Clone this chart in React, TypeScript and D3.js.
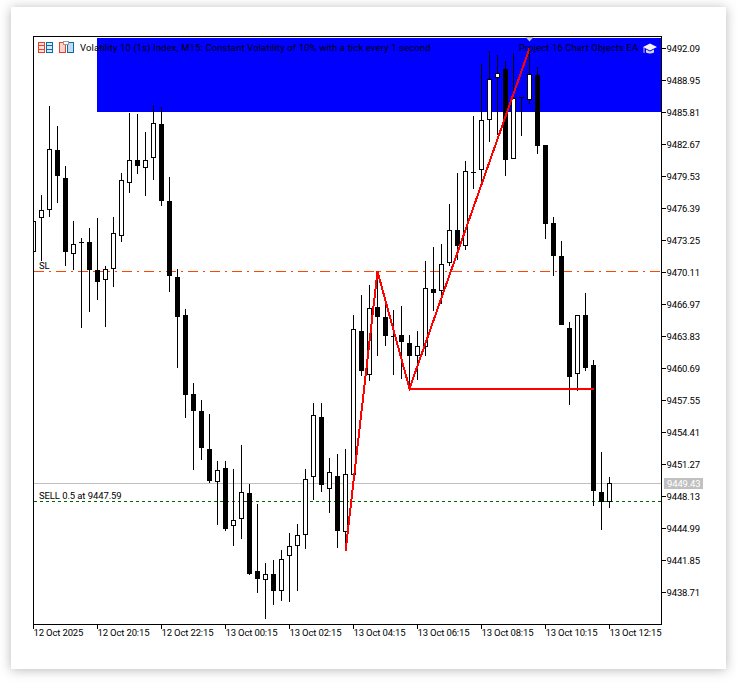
import React, { useEffect, useRef } from 'react';
import * as d3 from 'd3';

const opens = [9472.03, 9475.37, 9476.19, 9482.08, 9479.33, 9471.87, 9473.05, 9473.08, 9470.33, 9469.28, 9470.40, 9473.60, 9478.80, 9481.10, 9480.31, 9481.29, 9484.66, 9477.07, 9469.65, 9465.92, 9458.16, 9456.50, 9452.77, 9449.46, 9450.87, 9445.14, 9445.87, 9448.42, 9440.79, 9439.88, 9440.50, 9438.80, 9442.29, 9443.22, 9444.26, 9449.99, 9455.91, 9448.77, 9450.12, 9444.57, 9450.21, 9464.35, 9459.96, 9466.67, 9465.72, 9463.83, 9463.95, 9463.14, 9461.82, 9462.75, 9468.47, 9468.20, 9470.95, 9474.23, 9472.62, 9479.92, 9480.08, 9485.02, 9489.11, 9490.03, 9481.20, 9487.28, 9486.99, 9489.44, 9482.60, 9474.94, 9471.71, 9464.61, 9460.10, 9465.92, 9460.98, 9448.52, 9447.50];
const highs = [9475.11, 9477.69, 9486.43, 9484.46, 9480.54, 9475.14, 9473.44, 9474.42, 9475.41, 9470.70, 9475.53, 9479.82, 9485.71, 9485.64, 9483.88, 9486.50, 9486.30, 9479.43, 9470.43, 9466.48, 9459.21, 9457.57, 9456.20, 9451.59, 9451.59, 9450.80, 9453.16, 9449.33, 9447.37, 9441.58, 9441.87, 9442.85, 9444.52, 9445.40, 9450.80, 9457.25, 9457.25, 9451.85, 9452.25, 9452.77, 9465.92, 9467.88, 9468.86, 9470.14, 9467.22, 9466.41, 9466.80, 9463.95, 9464.35, 9471.22, 9472.56, 9472.88, 9476.81, 9479.82, 9481.03, 9485.42, 9490.55, 9491.83, 9491.36, 9490.77, 9491.60, 9487.28, 9492.09, 9490.25, 9482.60, 9475.50, 9473.18, 9465.20, 9465.92, 9468.05, 9461.50, 9452.44, 9449.99];
const lows = [9472.03, 9471.15, 9475.47, 9476.84, 9470.66, 9470.33, 9464.57, 9466.14, 9467.39, 9464.67, 9468.60, 9473.01, 9477.82, 9479.69, 9477.53, 9479.10, 9476.54, 9468.10, 9460.65, 9455.74, 9450.70, 9451.62, 9449.36, 9445.31, 9444.65, 9443.18, 9443.93, 9440.40, 9438.63, 9436.08, 9437.39, 9437.85, 9437.75, 9438.83, 9442.88, 9447.76, 9448.48, 9446.42, 9443.05, 9443.54, 9450.07, 9459.93, 9459.37, 9461.82, 9462.87, 9459.96, 9459.57, 9458.75, 9459.47, 9461.82, 9466.31, 9466.97, 9470.66, 9471.25, 9472.23, 9478.28, 9478.67, 9482.89, 9483.58, 9479.56, 9481.20, 9483.41, 9486.62, 9481.72, 9473.37, 9469.67, 9464.87, 9457.01, 9458.39, 9460.35, 9447.10, 9444.75, 9446.91];
const closes = [9475.11, 9476.19, 9482.18, 9479.49, 9472.03, 9472.85, 9472.91, 9470.33, 9469.09, 9470.40, 9473.93, 9479.14, 9481.10, 9480.47, 9481.10, 9484.73, 9477.04, 9469.67, 9465.65, 9458.00, 9456.43, 9452.79, 9449.56, 9450.68, 9444.85, 9445.77, 9448.52, 9440.50, 9439.94, 9440.47, 9438.76, 9441.94, 9443.22, 9444.30, 9449.79, 9456.07, 9449.16, 9450.48, 9444.65, 9450.28, 9464.51, 9460.35, 9466.57, 9465.65, 9463.79, 9463.76, 9463.20, 9461.82, 9462.84, 9468.54, 9468.01, 9470.89, 9474.23, 9472.62, 9480.02, 9479.78, 9485.02, 9489.01, 9489.64, 9481.13, 9487.18, 9487.14, 9489.54, 9482.50, 9474.85, 9471.71, 9464.87, 9459.76, 9465.89, 9460.65, 9448.57, 9447.50, 9449.40];

const priceTicks = [9492.09, 9488.95, 9485.81, 9482.67, 9479.53, 9476.39, 9473.25, 9470.11, 9466.97, 9463.83, 9460.69, 9457.55, 9454.41, 9451.27, 9448.13, 9444.99, 9441.85, 9438.71];
const timeTicks = [0, 8, 16, 24, 32, 40, 48, 56, 64, 72];
const timeLabels = ['12 Oct 2025', '12 Oct 20:15', '12 Oct 22:15', '13 Oct 00:15', '13 Oct 02:15', '13 Oct 04:15', '13 Oct 06:15', '13 Oct 08:15', '13 Oct 10:15', '13 Oct 12:15'];

const zigzagBars = [39, 43, 47, 62];
const zigzagPrices = [9442.76, 9470.18, 9458.75, 9492.09];
const flatBars = [47, 70];
const flatPrices = [9458.75, 9458.75];

const slPrice = 9470.18;
const sellPrice = 9447.59;
const bidPrice = 9449.43;
const zoneBottomPrice = 9485.81;
const chartFont = 'Roboto, sans-serif';
const fontSize = 9.5;
const spacing = -0.15;

export default function App() {
  const ref = useRef<SVGSVGElement>(null);

  useEffect(() => {
    const width = 737;
    const height = 684;
    const frame = { left: 33, right: 661, top: 36, bottom: 624 };

    const svg = d3.select(ref.current);
    svg.selectAll('*').remove();

    // integer pixels, the axis and the marks add the half pixel themselves
    const x = d3.scaleLinear().domain([0, 72]).range([33, 609]);
    const y = d3.scaleLinear().domain([9492.09, 9438.71]).range([47.9, 592]).interpolate(d3.interpolateRound);

    const defs = svg.append('defs');
    defs.append('filter').attr('id', 'card').attr('x', '-5%').attr('y', '-5%').attr('width', '110%').attr('height', '110%')
      .append('feDropShadow').attr('dx', 0).attr('dy', 1).attr('stdDeviation', 6).attr('flood-color', '#000').attr('flood-opacity', 0.28);
    defs.append('clipPath').attr('id', 'plot').append('rect')
      .attr('x', frame.left).attr('y', frame.top)
      .attr('width', frame.right - frame.left).attr('height', frame.bottom - frame.top);

    svg.append('rect').attr('width', width).attr('height', height).attr('fill', '#fff');
    svg.append('rect').attr('x', 11).attr('y', 7).attr('width', 715).attr('height', 662).attr('fill', '#fff').attr('filter', 'url(#card)');

    // blue zone sits under the candles
    svg.append('rect')
      .attr('x', 97).attr('y', 38)
      .attr('width', frame.right - 97).attr('height', y(zoneBottomPrice) - 38)
      .attr('fill', '#0000ff');

    const hline = (price: number, color: string, dash: string) => {
      svg.append('line')
        .attr('x1', frame.left + 1).attr('x2', frame.right)
        .attr('y1', y(price) + 0.5).attr('y2', y(price) + 0.5)
        .attr('stroke', color).attr('stroke-dasharray', dash)
        .attr('shape-rendering', 'crispEdges');
    };
    hline(slPrice, '#ff4500', '10 5 2 5');
    hline(bidPrice, '#c0c0c0', 'none');
    hline(sellPrice, '#006400', '3 3');

    const candles = svg.append('g').attr('shape-rendering', 'crispEdges').attr('clip-path', 'url(#plot)');
    opens.forEach((open, i) => {
      const close = closes[i];
      const cx = x(i) + 0.5;
      const up = close > open;
      const top = y(Math.max(open, close));
      const bottom = y(Math.min(open, close));
      candles.append('line')
        .attr('x1', cx).attr('x2', cx)
        .attr('y1', y(highs[i])).attr('y2', y(lows[i]))
        .attr('stroke', '#000');
      if (up) {
        candles.append('rect')
          .attr('x', cx - 2).attr('y', top + 0.5)
          .attr('width', 4).attr('height', Math.max(bottom - top - 1, 1))
          .attr('fill', '#fff').attr('stroke', '#000');
      } else {
        candles.append('rect')
          .attr('x', cx - 2.5).attr('y', top)
          .attr('width', 5).attr('height', Math.max(bottom - top, 1))
          .attr('fill', '#000');
      }
    });

    const line = d3.line<number>()
      .x((d) => x(d) + 0.5);
    svg.append('path')
      .attr('d', line.y((_, i) => y(zigzagPrices[i]) + 0.5)(zigzagBars))
      .attr('fill', 'none').attr('stroke', '#ff0000').attr('stroke-width', 2)
      .attr('shape-rendering', 'crispEdges');
    svg.append('path')
      .attr('d', line.y((_, i) => y(flatPrices[i]) + 0.5)(flatBars))
      .attr('fill', 'none').attr('stroke', '#ff0000').attr('stroke-width', 2)
      .attr('shape-rendering', 'crispEdges');

    svg.append('rect')
      .attr('x', frame.left + 0.5).attr('y', frame.top + 0.5)
      .attr('width', frame.right - frame.left).attr('height', frame.bottom - frame.top)
      .attr('fill', 'none').attr('stroke', '#000').attr('shape-rendering', 'crispEdges');

    const priceAxis = svg.append('g')
      .attr('transform', `translate(${frame.right + 0.5}, 0)`)
      .call(d3.axisRight(y).tickValues(priceTicks).tickSize(4).tickPadding(1).tickFormat((d) => (d as number).toFixed(2)));
    const timeAxis = svg.append('g')
      .attr('transform', `translate(0, ${frame.bottom + 0.5})`)
      .call(d3.axisBottom(x).tickValues(timeTicks).tickSize(4).tickPadding(1).tickFormat((_, i) => timeLabels[i]));
    [priceAxis, timeAxis].forEach((axis) => {
      axis.select('.domain').remove();
      axis.selectAll('line').attr('shape-rendering', 'crispEdges');
      axis.attr('font-family', chartFont).attr('font-size', fontSize).attr('letter-spacing', spacing);
      axis.selectAll('text').attr('fill', '#000');
    });
    timeAxis.selectAll('text').attr('text-anchor', 'start');

    const label = (tx: number, ty: number, text: string, fill = '#000', fit?: number) => {
      const t = svg.append('text')
        .attr('x', tx).attr('y', ty)
        .attr('font-family', chartFont).attr('font-size', fontSize).attr('letter-spacing', spacing)
        .attr('fill', fill)
        .text(text);
      if (fit) t.attr('textLength', fit).attr('lengthAdjust', 'spacing');
    };
    label(39, 269, 'SL');
    label(39, 499, 'SELL 0.5 at 9447.59', '#000', 82.5);
    label(80, 51, 'Volatility 10 (1s) Index, M15:  Constant Volatility of 10% with a tick every 1 second', '#000', 350.5);
    label(519, 51, 'Project 16 Chart Objects EA', '#000', 119);

    // bid price tag
    svg.append('rect').attr('x', 664).attr('y', 478).attr('width', 39).attr('height', 11).attr('fill', '#c0c0c0');
    label(667, y(bidPrice) + 3.5, bidPrice.toFixed(2), '#fff');

    // marker on the top edge
    svg.append('path').attr('d', 'M525.5 37H533.5L529.5 41.5Z').attr('fill', '#c0c0c0');

    // toolbar icons
    const icons = svg.append('g').attr('shape-rendering', 'crispEdges').attr('fill', 'none');
    icons.append('rect').attr('x', 38.5).attr('y', 42.5).attr('width', 6).attr('height', 10).attr('stroke', '#e8402a').attr('fill', '#fde3de');
    icons.append('rect').attr('x', 46.5).attr('y', 42.5).attr('width', 6).attr('height', 10).attr('stroke', '#0a6ab0').attr('fill', '#d5e8f6');
    [45.5, 49.5].forEach((ly) => {
      icons.append('line').attr('x1', 39).attr('x2', 45).attr('y1', ly).attr('y2', ly).attr('stroke', '#e8402a');
      icons.append('line').attr('x1', 46).attr('x2', 52).attr('y1', ly).attr('y2', ly).attr('stroke', '#0a6ab0');
    });
    icons.append('rect').attr('x', 59.5).attr('y', 42.5).attr('width', 6).attr('height', 10).attr('stroke', '#e8402a').attr('fill', '#fbd5cd');
    icons.append('rect').attr('x', 67.5).attr('y', 42.5).attr('width', 6).attr('height', 10).attr('stroke', '#0a6ab0').attr('fill', '#bfdcf2');
    icons.append('rect').attr('x', 63.5).attr('y', 41.5).attr('width', 5).attr('height', 3).attr('stroke', '#9a9a9a').attr('fill', '#fff');

    // graduation cap
    const cap = svg.append('g');
    cap.append('path').attr('d', 'M643 47L650 43.5L657 47L650 50.5Z').attr('fill', '#f2f2f2');
    cap.append('path').attr('d', 'M646 49.5V52.5Q650 54.5 654 52.5V49.5L650 51.5Z').attr('fill', '#d8d8d8');
    cap.append('rect').attr('x', 643.5).attr('y', 47).attr('width', 1).attr('height', 6).attr('fill', '#c8c8c8');
  }, []);

  return (
    <svg
      ref={ref}
      width={737}
      height={684}
      style={{ position: 'absolute', left: 0, top: 0, display: 'block' }}
    />
  );
}
